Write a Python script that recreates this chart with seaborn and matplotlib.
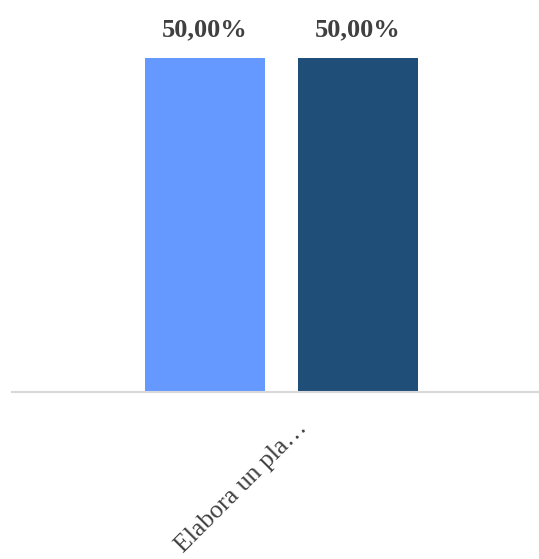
import matplotlib
matplotlib.use("Agg")
import matplotlib.pyplot as plt
import matplotlib.transforms as mtransforms
import seaborn as sns
import pandas as pd

categories = ["Elabora un pla…"]
series = ["Serie 1", "Serie 2"]
values = [50.0, 50.0]
colors = ["#6699FF", "#1F4E79"]

sns.set_theme(style="white")
plt.rcParams['font.family'] = ['Liberation Serif', 'DejaVu Serif']

df = pd.DataFrame({"cat": [categories[0]] * len(series), "serie": series, "val": values})

W, H = 539, 559
fig = plt.figure(figsize=(W / 100, H / 100), dpi=100)
ax = fig.add_axes([12 / W, 1 - 392 / H, 1 - 12 / W, 392 / H])

sns.barplot(data=df, x="cat", y="val", hue="serie", palette=colors, width=0.8,
            gap=0.216, legend=False, ax=ax, saturation=1, errorbar=None, linewidth=0)

ax.set_xlim(-0.705, 0.673)
ax.set_ylim(0, 58.68)
ax.set_xlabel("")
ax.set_ylabel("")
ax.set_yticks([])

for s in ["top", "right", "left"]:
    ax.spines[s].set_visible(False)
ax.spines["bottom"].set_color("#D9D9D9")
ax.spines["bottom"].set_linewidth(1.5)

ax.tick_params(axis="x", length=0, labelsize=18.5, labelcolor="#404040")
for lbl in ax.get_xticklabels():
    lbl.set_rotation(45)
    lbl.set_ha("right")
    lbl.set_transform(lbl.get_transform() + mtransforms.ScaledTranslation(30 / 100, -20 / 100, fig.dpi_scale_trans))

for cont in ax.containers:
    labels = [f"{v:.2f}%".replace(".", ",") for v in cont.datavalues]
    ax.bar_label(cont, labels=labels, padding=12, fontsize=19, fontweight="bold", color="#404040")

fig.savefig("out.png", dpi=100)
